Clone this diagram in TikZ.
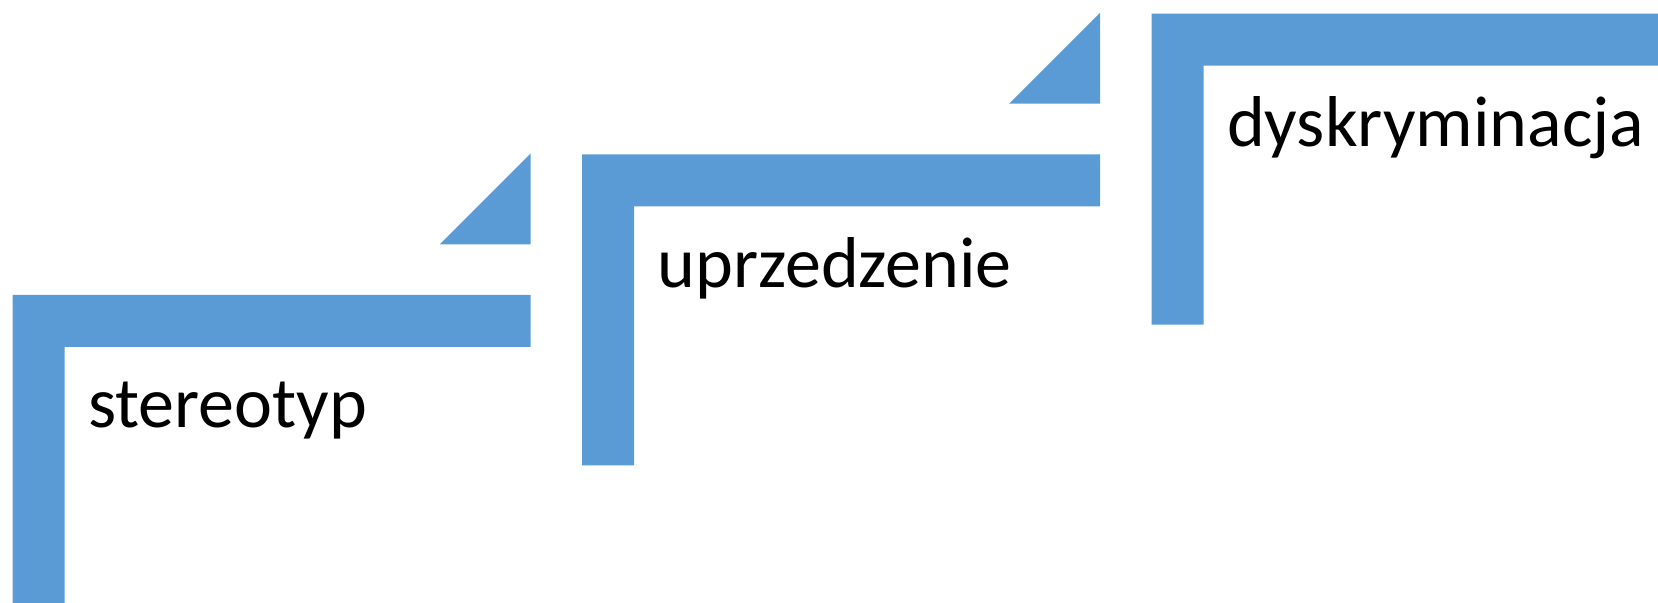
\documentclass[tikz,border=0pt]{standalone}
\usepackage{fontspec}
\setmainfont{Carlito}
\definecolor{stepblue}{HTML}{5B9BD5}
\begin{document}
\begin{tikzpicture}[x=0.5pt,y=-0.5pt]
\useasboundingbox (0,0) rectangle (1658,603);
\clip (0,0) rectangle (1658,603);
\def\bw{518}   % length of the top bar
\def\bh{311}   % length of the leg
\def\th{52}    % bar thickness
\def\tri{91}   % size of the little triangle
\newcommand{\stepcorner}[4]{
  % #1 node name, #2/#3 top left corner, #4 label
  \fill[stepblue] (#2,#3) -- ++(\bw,0) -- ++(0,\th) -- ++(-\bw+\th,0)
    -- ++(0,\bh-\th) -- ++(-\th,0) -- cycle;
  \node[anchor=base west,inner sep=0pt,font=\fontsize{36}{43}\selectfont]
    (#1) at (#2+75,#3+133) {#4};
}
\newcommand{\steptri}[2]{
  % triangle sitting above the right end of a bar
  \fill[stepblue] (#1+\bw,#2-50.7) -- ++(-\tri,0) -- ++(\tri,-\tri) -- cycle;
}

% the three steps, going up to the right
\foreach \i/\nm/\lab in {0/stereo/stereotyp,1/prejud/uprzedzenie,2/discrim/dyskryminacja} {
  \pgfmathsetmacro{\sx}{12.7+569.5*\i}
  \pgfmathsetmacro{\sy}{295-140.65*\i}
  \stepcorner{\nm}{\sx}{\sy}{\lab}
}
% arrow heads between the steps
\foreach \i in {0,1} {
  \pgfmathsetmacro{\sx}{12.7+569.5*\i}
  \pgfmathsetmacro{\sy}{295-140.65*\i}
  \steptri{\sx}{\sy}
}
\end{tikzpicture}
\end{document}
